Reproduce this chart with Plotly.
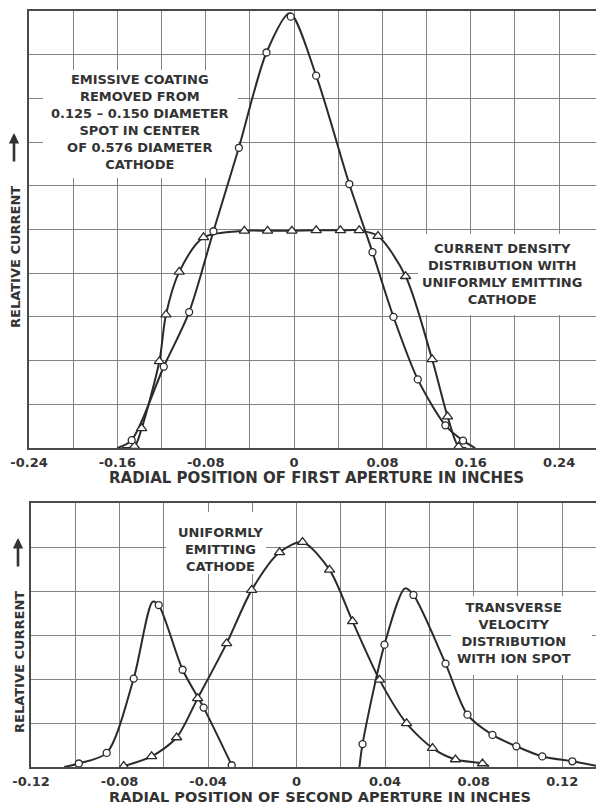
import plotly.graph_objects as go

# ---------------- data ----------------
# Upper panel: first aperture
top_circ_x = [-0.147, -0.118, -0.095, -0.073, -0.050, -0.025, -0.003, 0.020, 0.050, 0.071, 0.090, 0.112, 0.137, 0.153]
top_circ_y = [0.18, 1.86, 3.11, 4.96, 6.87, 9.05, 9.87, 8.52, 6.04, 4.48, 3.00, 1.57, 0.52, 0.17]
top_circ_line_x = [-0.160, -0.147, -0.118, -0.095, -0.073, -0.050, -0.025, -0.004, 0.020, 0.050, 0.071, 0.090, 0.112, 0.137, 0.153, 0.164]
top_circ_line_y = [0.0, 0.18, 1.86, 3.11, 4.96, 6.87, 9.05, 9.95, 8.52, 6.04, 4.48, 3.00, 1.57, 0.52, 0.17, 0.0]

top_tri_x = [-0.1445, -0.138, -0.122, -0.116, -0.104, -0.082, -0.045, -0.024, -0.002, 0.020, 0.042, 0.059, 0.076, 0.101, 0.125, 0.139, 0.149]
top_tri_y = [0.04, 0.45, 1.98, 3.05, 4.03, 4.82, 4.97, 4.97, 4.97, 4.98, 4.98, 4.98, 4.85, 3.93, 2.03, 0.72, 0.03]
top_tri_line_x = [-0.156, -0.1445, -0.138, -0.122, -0.116, -0.104, -0.082, -0.045, -0.024, -0.002, 0.020, 0.042, 0.059, 0.076, 0.101, 0.125, 0.139, 0.149, 0.156]
top_tri_line_y = [0.0, 0.04, 0.45, 1.98, 3.05, 4.03, 4.82, 4.97, 4.97, 4.97, 4.98, 4.98, 4.98, 4.85, 3.93, 2.03, 0.72, 0.03, 0.0]

# Lower panel: second aperture
bot_lcirc_x = [-0.0984, -0.0858, -0.0736, -0.0623, -0.0515, -0.0420, -0.0293]
bot_lcirc_y = [0.08, 0.32, 2.01, 3.68, 2.21, 1.35, 0.04]
bot_lcirc_line_x = [-0.105, -0.0984, -0.0858, -0.0736, -0.0650, -0.0623, -0.0515, -0.0420, -0.0293]
bot_lcirc_line_y = [0.0, 0.08, 0.32, 2.01, 3.76, 3.68, 2.21, 1.35, 0.04]

bot_tri_x = [-0.0781, -0.0655, -0.0542, -0.0447, -0.0316, -0.0203, -0.0077, 0.0027, 0.0149, 0.0253, 0.0375, 0.0497, 0.0614, 0.0718, 0.0840]
bot_tri_y = [0.02, 0.24, 0.67, 1.56, 2.81, 4.02, 4.88, 5.11, 4.48, 3.31, 1.98, 0.99, 0.43, 0.17, 0.08]
bot_tri_line_x = [-0.0781, -0.0655, -0.0542, -0.0447, -0.0316, -0.0203, -0.0077, 0.0027, 0.0149, 0.0253, 0.0375, 0.0497, 0.0614, 0.0718, 0.0840, 0.0870]
bot_tri_line_y = [0.02, 0.24, 0.67, 1.56, 2.81, 4.02, 4.88, 5.11, 4.48, 3.31, 1.98, 0.99, 0.43, 0.17, 0.08, 0.02]

bot_rcirc_x = [0.0298, 0.0397, 0.0528, 0.0673, 0.0772, 0.0885, 0.0993, 0.1110, 0.1246]
bot_rcirc_y = [0.52, 2.78, 3.91, 2.35, 1.19, 0.73, 0.47, 0.24, 0.13]
bot_rcirc_line_x = [0.0284, 0.0298, 0.0397, 0.0490, 0.0528, 0.0673, 0.0772, 0.0885, 0.0993, 0.1110, 0.1246, 0.1360]
bot_rcirc_line_y = [0.0, 0.52, 2.78, 4.06, 3.91, 2.35, 1.19, 0.73, 0.47, 0.24, 0.13, 0.02]

# tick labels
top_tick_vals = [-0.24, -0.20, -0.16, -0.12, -0.08, -0.04, 0.0, 0.04, 0.08, 0.12, 0.16, 0.20, 0.24]
top_tick_text = ["-0.24", "", "-0.16", "", "-0.08", "", "0", "", "0.08", "", "0.16", "", "0.24"]
bot_tick_vals = [-0.12, -0.10, -0.08, -0.06, -0.04, -0.02, 0.0, 0.02, 0.04, 0.06, 0.08, 0.10, 0.12]
bot_tick_text = ["-0.12", "", "-0.08", "", "-0.04", "", "0", "", "0.04", "", "0.08", "", "0.12"]

# ---------------- layout geometry ----------------
# The page body has an 8px margin, so the figure sits at (8, 8) in the window.
OFF = 8
W, H = 596, 799
# screen-pixel frames of the two panels
TOP_L, TOP_R, TOP_T, TOP_B = 29, 600, 11, 448
BOT_L, BOT_R, BOT_T, BOT_B = 31, 602, 503, 767

ML = TOP_L - OFF
MR = W - (BOT_R - OFF)
MT = TOP_T - OFF
MB = H - (BOT_B - OFF)
PW = W - ML - MR
PH = H - MT - MB


def pxx(sx):
    return (sx - OFF - ML) / PW


def pxy(sy):
    return (H - MB - (sy - OFF)) / PH


INK = "#2b2b2b"
GRID = "#838383"
FRAME = "#4a4a4a"
TXT = "#333333"
FONT = dict(family="DejaVu Sans", size=13, color=TXT, weight="bold")

TOP_X = [-0.24, 0.277]
BOT_X = [-0.12, 0.138]

fig = go.Figure()


def curve(x, y, xa, ya):
    fig.add_trace(go.Scatter(x=x, y=y, mode="lines", xaxis=xa, yaxis=ya,
                             line=dict(color=INK, width=2, shape="spline", smoothing=0.8),
                             hoverinfo="skip", showlegend=False))


def marks(x, y, sym, size, xa, ya):
    fig.add_trace(go.Scatter(x=x, y=y, mode="markers", xaxis=xa, yaxis=ya,
                             marker=dict(symbol=sym, size=size, color="white",
                                         line=dict(color=INK, width=1.3)),
                             showlegend=False))


curve(top_tri_line_x, top_tri_line_y, "x", "y")
curve(top_circ_line_x, top_circ_line_y, "x", "y")
marks(top_tri_x, top_tri_y, "triangle-up", 9, "x", "y")
marks(top_circ_x, top_circ_y, "circle", 7, "x", "y")

curve(bot_tri_line_x, bot_tri_line_y, "x2", "y2")
curve(bot_lcirc_line_x, bot_lcirc_line_y, "x2", "y2")
curve(bot_rcirc_line_x, bot_rcirc_line_y, "x2", "y2")
marks(bot_tri_x, bot_tri_y, "triangle-up", 9, "x2", "y2")
marks(bot_lcirc_x, bot_lcirc_y, "circle", 7, "x2", "y2")
marks(bot_rcirc_x, bot_rcirc_y, "circle", 7, "x2", "y2")


# screen pixel -> data helpers for the white label boxes
def tx(p):
    return TOP_X[0] + (p - TOP_L) / (TOP_R - TOP_L) * (TOP_X[1] - TOP_X[0])


def ty(p):
    return (TOP_B - p) / (TOP_B - TOP_T) * 10


def bx(p):
    return BOT_X[0] + (p - BOT_L) / (BOT_R - BOT_L) * (BOT_X[1] - BOT_X[0])


def by(p):
    return (BOT_B - p) / (BOT_B - BOT_T) * 6


shapes = [
    dict(type="rect", xref="x", yref="y", x0=tx(43), x1=tx(238), y0=ty(178), y1=ty(70),
         fillcolor="white", line=dict(width=0), layer="between"),
    dict(type="rect", xref="x", yref="y", x0=tx(418), x1=tx(600), y0=ty(315), y1=ty(234),
         fillcolor="white", line=dict(width=0), layer="between"),
    dict(type="rect", xref="x2", yref="y2", x0=bx(166), x1=bx(266), y0=by(574), y1=by(512),
         fillcolor="white", line=dict(width=0), layer="between"),
    dict(type="rect", xref="x2", yref="y2", x0=bx(451), x1=bx(592), y0=by(675), y1=by(596),
         fillcolor="white", line=dict(width=0), layer="between"),
]

annotations = []


def ann(text, x, y, size=13, angle=0):
    annotations.append(dict(text=text, xref="paper", yref="paper", x=pxx(x), y=pxy(y),
                            xanchor="center", yanchor="middle", showarrow=False,
                            textangle=angle, align="center",
                            font=dict(family="DejaVu Sans", size=size, color=TXT, weight="bold")))


def up_arrow(x, y_head, y_tail):
    annotations.append(dict(text="", xref="paper", yref="paper", x=pxx(x), y=pxy(y_head),
                            showarrow=True, ax=0, ay=y_tail - y_head, axref="pixel", ayref="pixel",
                            arrowhead=2, arrowsize=0.8, arrowwidth=2.6, arrowcolor=TXT))


ann("EMISSIVE COATING<br>REMOVED FROM<br>0.125 \u2013 0.150 DIAMETER<br>"
    "SPOT IN CENTER<br>OF 0.576 DIAMETER<br>CATHODE", 140, 122)
ann("CURRENT DENSITY<br>DISTRIBUTION WITH<br>UNIFORMLY EMITTING<br>CATHODE", 502, 274)
ann("UNIFORMLY<br>EMITTING<br>CATHODE", 220, 549)
ann("TRANSVERSE<br>VELOCITY<br>DISTRIBUTION<br>WITH ION SPOT", 514, 633)

ann("RADIAL POSITION OF FIRST APERTURE IN INCHES", 316, 478, size=15)
ann("RADIAL POSITION OF SECOND APERTURE IN INCHES", 320, 797, size=14.5)
ann("RELATIVE CURRENT", 16, 257, angle=-90)
ann("RELATIVE CURRENT", 19, 662, angle=-90)
up_arrow(14, 133, 163)
up_arrow(18, 538, 568)

axis_common = dict(showline=True, mirror=True, linecolor=FRAME, linewidth=1.6,
                   showgrid=True, gridcolor=GRID, gridwidth=1.2, zeroline=False,
                   ticks="outside", ticklen=2, tickcolor="rgba(0,0,0,0)", automargin=False,
                   ticklabeloverflow="allow", tickfont=FONT, fixedrange=True)

fig.update_layout(
    width=W, height=H,
    margin=dict(l=ML, r=MR, t=MT, b=MB, autoexpand=False),
    paper_bgcolor="white", plot_bgcolor="white",
    showlegend=False,
    xaxis=dict(domain=[pxx(TOP_L), pxx(TOP_R)], range=TOP_X, anchor="y",
               tickmode="array", tickvals=top_tick_vals, ticktext=top_tick_text, **axis_common),
    yaxis=dict(domain=[pxy(TOP_B), pxy(TOP_T)], range=[0, 10], anchor="x",
               dtick=1, showticklabels=False, **axis_common),
    xaxis2=dict(domain=[pxx(BOT_L), pxx(BOT_R)], range=BOT_X, anchor="y2",
                tickmode="array", tickvals=bot_tick_vals, ticktext=bot_tick_text, **axis_common),
    yaxis2=dict(domain=[pxy(BOT_B), pxy(BOT_T)], range=[0, 6], anchor="x2",
                dtick=1, showticklabels=False, **axis_common),
    shapes=shapes,
    annotations=annotations,
)

fig.write_html("out.html")
